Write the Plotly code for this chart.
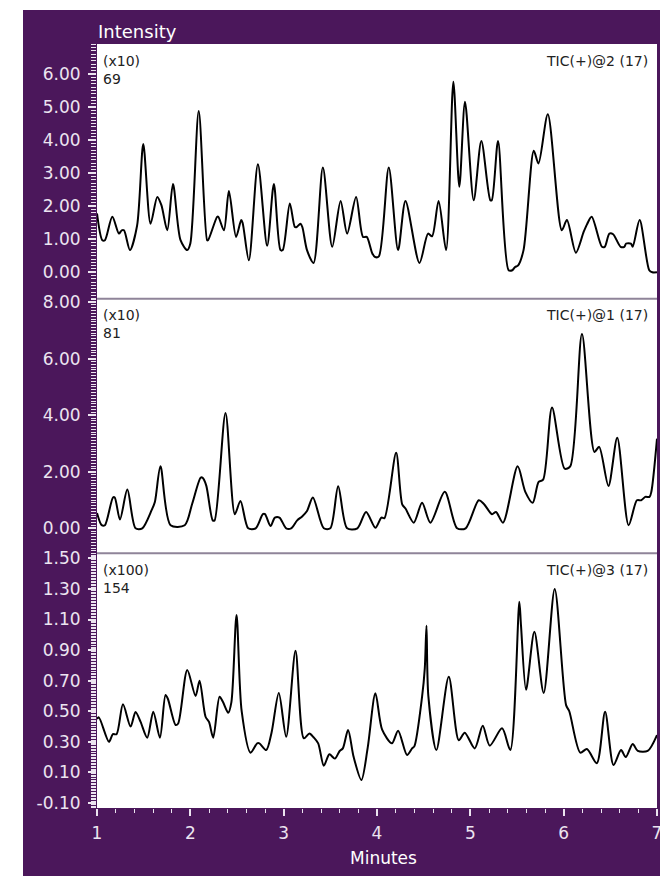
import plotly.graph_objects as go
from plotly.subplots import make_subplots

# ---------------- data ----------------
minutes_tic2 = [1.00, 1.057, 1.085, 1.164, 1.235, 1.265, 1.289, 1.353, 1.43, 1.496, 1.574, 1.646, 1.69, 1.753,
                1.814, 1.895, 1.967, 2.00, 2.09, 2.18, 2.19, 2.288, 2.30, 2.36, 2.413, 2.49, 2.545, 2.56, 2.627,
                2.724, 2.823, 2.895, 2.966, 2.99, 3.066, 3.12, 3.14, 3.18, 3.20, 3.25, 3.32, 3.42, 3.52, 3.61,
                3.68, 3.776, 3.85, 3.89, 3.95, 3.98, 4.02, 4.126, 4.226, 4.305, 4.455, 4.547, 4.59, 4.66, 4.74,
                4.818, 4.882, 4.943, 5.036, 5.118, 5.214, 5.23, 5.297, 5.41, 5.45, 5.48, 5.51, 5.57, 5.68, 5.73,
                5.83, 5.98, 6.035, 6.131, 6.214, 6.25, 6.30, 6.41, 6.44, 6.49, 6.53, 6.61, 6.65, 6.67, 6.72,
                6.74, 6.814, 6.917, 6.95, 7.00]
intensity_tic2 = [1.78, 0.97, 0.97, 1.68, 1.17, 1.27, 1.27, 0.67, 1.42, 3.88, 1.47, 2.28, 2.03, 1.27,
                  2.67, 0.97, 0.67, 0.87, 4.88, 0.97, 0.97, 1.68, 1.68, 1.27, 2.46, 1.07, 1.58, 1.50, 0.36,
                  3.27, 0.80, 2.67, 0.67, 0.67, 2.08, 1.37, 1.37, 1.47, 1.37, 0.67, 0.28, 3.17, 0.77, 2.16,
                  1.17, 2.28, 1.07, 1.07, 0.57, 0.46, 0.48, 3.17, 0.67, 2.16, 0.28, 1.17, 1.09, 2.16, 0.67,
                  5.77, 2.59, 5.16, 2.18, 3.97, 2.18, 2.18, 3.97, 0.06, 0.06, 0.16, 0.20, 0.67, 3.68, 3.29,
                  4.78, 1.27, 1.58, 0.59, 1.22, 1.45, 1.68, 0.77, 0.77, 1.17, 1.15, 0.77, 0.77, 0.87, 0.87,
                  0.77, 1.58, 0.06, 0.00, 0.00]

minutes_tic1 = [1.00, 1.05, 1.085, 1.171, 1.19, 1.246, 1.325, 1.413, 1.485, 1.585, 1.62, 1.68, 1.788, 1.94,
                2.02, 2.11, 2.13, 2.17, 2.24, 2.26, 2.377, 2.477, 2.537, 2.62, 2.70, 2.777, 2.80, 2.859, 2.906,
                2.955, 3.027, 3.08, 3.145, 3.198, 3.25, 3.313, 3.43, 3.50, 3.584, 3.68, 3.79, 3.883, 3.983,
                4.047, 4.08, 4.205, 4.27, 4.305, 4.394, 4.483, 4.572, 4.726, 4.858, 4.95, 5.09, 5.143, 5.232,
                5.275, 5.35, 5.507, 5.589, 5.668, 5.732, 5.78, 5.875, 6.01, 6.07, 6.196, 6.33, 6.38, 6.48,
                6.574, 6.696, 6.785, 6.83, 6.874, 6.92, 6.94, 7.00]
intensity_tic1 = [0.54, 0.11, 0.11, 1.09, 1.09, 0.31, 1.37, 0.00, 0.00, 0.64, 0.93, 2.19, 0.11, 0.11,
                  0.87, 1.79, 1.79, 1.52, 0.28, 0.28, 4.08, 0.50, 0.97, 0.00, 0.00, 0.50, 0.50, 0.08, 0.38,
                  0.38, 0.00, 0.00, 0.28, 0.42, 0.61, 1.09, 0.00, 0.00, 1.49, 0.00, 0.00, 0.58, 0.02,
                  0.38, 0.36, 2.67, 0.85, 0.70, 0.20, 0.90, 0.20, 1.29, 0.00, 0.00, 0.99, 0.87, 0.50,
                  0.58, 0.20, 2.19, 1.29, 0.90, 1.64, 1.72, 4.27, 2.11, 2.19, 6.87, 2.70, 2.88, 1.50,
                  3.20, 0.11, 0.99, 0.99, 1.11, 1.11, 1.30, 3.17]

minutes_tic3 = [1.00, 1.02, 1.128, 1.17, 1.21, 1.278, 1.36, 1.413, 1.467, 1.538, 1.603, 1.674, 1.734, 1.76,
                1.842, 1.87, 1.967, 2.056, 2.099, 2.163, 2.20, 2.245, 2.313, 2.35, 2.406, 2.44, 2.495, 2.55,
                2.645, 2.716, 2.74, 2.813, 2.87, 2.948, 3.027, 3.127, 3.216, 3.276, 3.32, 3.37, 3.43, 3.49,
                3.548, 3.60, 3.634, 3.69, 3.75, 3.833, 3.90, 3.983, 4.055, 4.16, 4.226, 4.322, 4.376, 4.40,
                4.483, 4.512, 4.53, 4.55, 4.636, 4.769, 4.876, 4.94, 5.047, 5.133, 5.208, 5.34, 5.428, 5.525,
                5.543, 5.597, 5.686, 5.786, 5.904, 6.026, 6.06, 6.178, 6.249, 6.355, 6.444, 6.534, 6.615,
                6.665, 6.74, 6.794, 6.90, 7.00]
intensity_tic3 = [0.45, 0.46, 0.30, 0.35, 0.35, 0.545, 0.40, 0.495, 0.43, 0.327, 0.497, 0.327, 0.606, 0.58,
                  0.41, 0.42, 0.77, 0.60, 0.70, 0.464, 0.43, 0.327, 0.595, 0.56, 0.49, 0.56, 1.13, 0.50,
                  0.229, 0.29, 0.29, 0.246, 0.36, 0.62, 0.333, 0.895, 0.323, 0.355, 0.33, 0.29, 0.144, 0.218,
                  0.19, 0.24, 0.257, 0.377, 0.20, 0.05, 0.26, 0.617, 0.38, 0.29, 0.373, 0.214, 0.257, 0.27,
                  0.595, 0.78, 1.06, 0.60, 0.246, 0.725, 0.31, 0.36, 0.257, 0.405, 0.275, 0.388, 0.246, 1.216,
                  1.06, 0.64, 1.02, 0.62, 1.30, 0.54, 0.50, 0.229, 0.253, 0.16, 0.497, 0.148, 0.246,
                  0.20, 0.286, 0.24, 0.24, 0.344]

panel_names = ["TIC(+)@2 (17)", "TIC(+)@1 (17)", "TIC(+)@3 (17)"]
panel_scales = ["(x10)", "(x10)", "(x100)"]
panel_counts = ["69", "81", "154"]

y1_ticks = [0, 1, 2, 3, 4, 5, 6]
y1_labels = ["0.00", "1.00", "2.00", "3.00", "4.00", "5.00", "6.00"]
y2_ticks = [0, 2, 4, 6, 8]
y2_labels = ["0.00", "2.00", "4.00", "6.00", "8.00"]
y3_ticks = [-0.10, 0.10, 0.30, 0.50, 0.70, 0.90, 1.10, 1.30, 1.50]
y3_labels = ["-0.10", "0.10", "0.30", "0.50", "0.70", "0.90", "1.10", "1.30", "1.50"]
x_ticks = [1, 2, 3, 4, 5, 6, 7]

# ---------------- style ----------------
PURPLE = "#4b175b"
TICKC = "#ece4f0"
FONT = "DejaVu Sans"
W, H = 668, 876
OFF = 8  # page body margin
L, R, T, B = 89, 19, 36, 76
PW, PH = W - L - R, H - T - B

def px_x(p):  # page pixel -> paper coordinate
    return (p - OFF - L) / PW

def px_y(p):
    return (H - B - (p - OFF)) / PH

fig = make_subplots(rows=3, cols=1, shared_xaxes=True, vertical_spacing=0)

series = [(minutes_tic2, intensity_tic2), (minutes_tic1, intensity_tic1), (minutes_tic3, intensity_tic3)]
for i, (xs, ys) in enumerate(series):
    fig.add_trace(go.Scatter(x=xs, y=ys, mode="lines",
                             line=dict(color="black", width=2, shape="spline", smoothing=0.8),
                             showlegend=False, hoverinfo="skip"), row=i + 1, col=1)

tickfont = dict(family=FONT, size=17, color=TICKC)
yaxes_cfg = [
    dict(range=[-0.80, 6.91], vals=y1_ticks, text=y1_labels, minor_dtick=0.1),
    dict(range=[-0.885, 8.12], vals=y2_ticks, text=y2_labels, minor_dtick=0.1),
    dict(range=[-0.133, 1.533], vals=y3_ticks, text=y3_labels, minor_dtick=0.01),
]
for i, cfg in enumerate(yaxes_cfg):
    fig.update_yaxes(range=cfg["range"], tickmode="array", tickvals=cfg["vals"], ticktext=cfg["text"],
                     ticks="outside", ticklen=8, tickwidth=1.5, tickcolor=TICKC, tickfont=tickfont,
                     ticklabelstandoff=4,
                     minor=dict(ticks="outside", dtick=cfg["minor_dtick"], tick0=0, ticklen=5,
                                tickwidth=1, tickcolor=TICKC, showgrid=False),
                     showgrid=False, zeroline=False, showline=False, fixedrange=True,
                     row=i + 1, col=1)

for i in range(3):
    last = (i == 2)
    fig.update_xaxes(range=[1, 7], tickmode="array", tickvals=x_ticks,
                     showgrid=False, zeroline=False, showline=False,
                     ticks="outside" if last else "", ticklen=7, tickwidth=1.5, tickcolor=TICKC,
                     showticklabels=last, tickfont=tickfont, ticklabelstandoff=3,
                     minor=dict(ticks="outside" if last else "", dtick=0.2, tick0=1, ticklen=4, tickwidth=1,
                                tickcolor=TICKC, showgrid=False),
                     row=i + 1, col=1)

shapes = [
    # white margins outside the purple frame
    dict(type="rect", xref="paper", yref="paper", x0=px_x(-20), x1=px_x(23), y0=px_y(H + 40), y1=px_y(-20),
         fillcolor="white", line=dict(width=0), layer="below"),
    dict(type="rect", xref="paper", yref="paper", x0=px_x(-20), x1=px_x(W + 40), y0=px_y(10), y1=px_y(-20),
         fillcolor="white", line=dict(width=0), layer="below"),
    # separators between panels
    dict(type="line", xref="paper", yref="paper", x0=0, x1=1, y0=2 / 3, y1=2 / 3,
         line=dict(color="#8f8499", width=2)),
    dict(type="line", xref="paper", yref="paper", x0=0, x1=1, y0=1 / 3, y1=1 / 3,
         line=dict(color="#8f8499", width=2)),
]

annotations = [
    dict(text="Intensity", xref="paper", yref="paper", x=px_x(96), y=px_y(31), xanchor="left",
         yanchor="middle", showarrow=False, font=dict(family=FONT, size=18, color="white")),
    dict(text="Minutes", xref="paper", yref="paper", x=px_x(383), y=px_y(858), xanchor="center",
         yanchor="middle", showarrow=False, font=dict(family=FONT, size=17, color="white")),
]
yrefs = ["y", "y2", "y3"]
panel_h = PH / 3.0
for i in range(3):
    annotations.append(dict(text=panel_scales[i], xref="x domain", yref=yrefs[i] + " domain",
                            x=0.007, y=1 - 16.5 / panel_h, xanchor="left", yanchor="middle",
                            showarrow=False, font=dict(family=FONT, size=14, color="#222222")))
    annotations.append(dict(text=panel_counts[i], xref="x domain", yref=yrefs[i] + " domain",
                            x=0.007, y=1 - 34.5 / panel_h, xanchor="left", yanchor="middle",
                            showarrow=False, font=dict(family=FONT, size=14, color="#222222")))
    annotations.append(dict(text=panel_names[i], xref="x domain", yref=yrefs[i] + " domain",
                            x=0.988, y=1 - 16.5 / panel_h, xanchor="right", yanchor="middle",
                            showarrow=False, font=dict(family=FONT, size=14, color="#222222")))

fig.update_layout(width=W, height=H, margin=dict(l=L, r=R, t=T, b=B, pad=0),
                  paper_bgcolor=PURPLE, plot_bgcolor="white",
                  shapes=shapes, annotations=annotations, showlegend=False,
                  font=dict(family=FONT))

fig.write_html("out.html")
